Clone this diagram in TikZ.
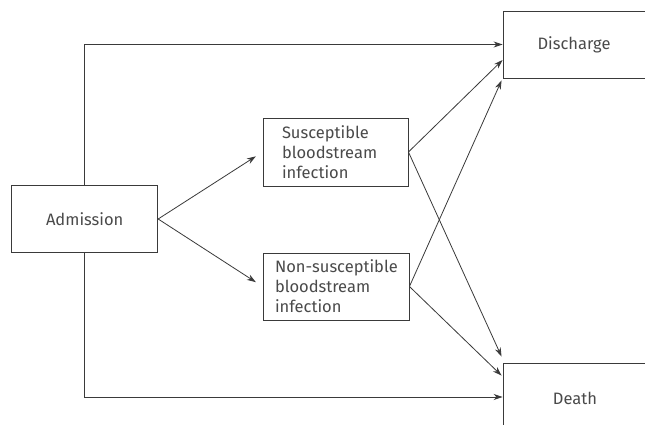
\documentclass[tikz,border=0pt]{standalone}
\usepackage{fontspec}
\setmainfont{Fira Sans}
\usetikzlibrary{arrows.meta}
\definecolor{linecol}{HTML}{3A3A3A}
\definecolor{textcol}{HTML}{4A4A4A}
\tikzset{
  box/.style={draw=linecol, line width=0.9pt, rectangle, inner sep=0pt, text=textcol, font=\fontsize{16.5}{20}\selectfont},
  lbl/.style={text=textcol, font=\fontsize{16.5}{20}\selectfont, inner sep=0pt},
  arr/.style={draw=linecol, line width=0.8pt, -{Stealth[length=9pt,width=6pt]}}
}
\begin{document}
\begin{tikzpicture}[x=1pt,y=-1pt]
\useasboundingbox (0,0) rectangle (645,425);
\fill[white] (0,0) rectangle (645,425);
\clip (0,0) rectangle (645,425);
\node[box, minimum width=146pt, minimum height=67.5pt] (adm) at (84.7,219) {Admission};
\node[box, minimum width=145pt, minimum height=68pt, align=left, text width=107pt] (sus) at (335.5,152) {\mbox{Susceptible}\\\mbox{bloodstream}\\infection};
\node[box, minimum width=146pt, minimum height=67pt, align=left, text width=122pt] (non) at (336,286.5) {\mbox{Non-susceptible}\\\mbox{bloodstream}\\infection};
\node[box, minimum width=170pt, minimum height=67pt] (dis) at (588,44.5) {};
\node[lbl] (distext) at (574,45) {Discharge};
\node[box, minimum width=170pt, minimum height=68pt] (dea) at (588,397) {};
\node[lbl] (deatext) at (575,398) {Death};
\draw[arr] (adm.north) |- (dis.west);
\draw[arr] (adm.south) |- (dea.west);
\draw[arr, shorten >=8pt] (adm.east) -- (sus.west);
\draw[arr, shorten >=8pt] (adm.east) -- (non.west);
\draw[arr] (sus.east) -- ([yshift=-15.5pt]dis.west);
\draw[arr] (sus.east) -- ([xshift=-1pt,yshift=6pt]dea.north west);
\draw[arr] (non.east) -- ([xshift=-1pt,yshift=-2pt]dis.south west);
\draw[arr] (non.east) -- ([xshift=-1pt,yshift=-13pt]dea.north west);
\end{tikzpicture}
\end{document}
